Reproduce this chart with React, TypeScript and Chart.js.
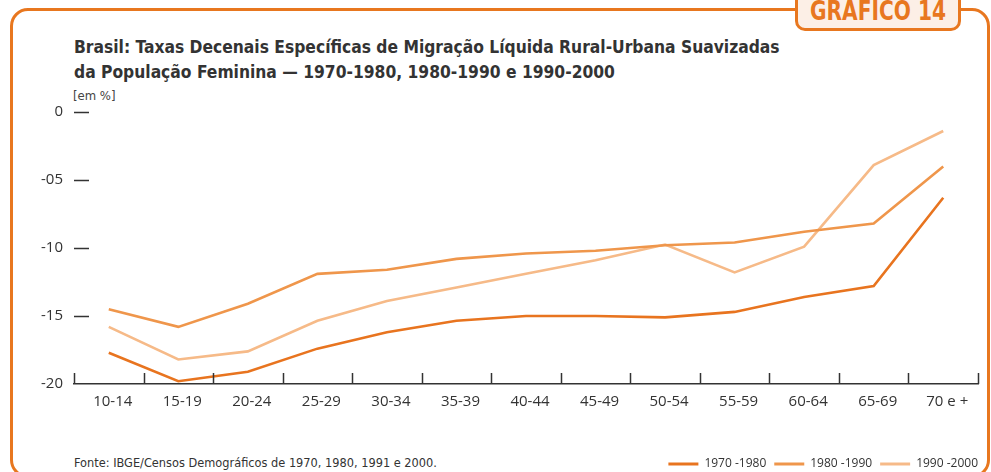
import React, { useEffect, useRef } from 'react';
import { Chart, registerables } from 'chart.js';

Chart.register(...registerables);

const ageGroups = ['10-14', '15-19', '20-24', '25-29', '30-34', '35-39', '40-44', '45-49', '50-54', '55-59', '60-64', '65-69', '70 e +'];
const series1970 = [-17.7, -19.8, -19.1, -17.4, -16.2, -15.35, -15.0, -15.0, -15.1, -14.7, -13.6, -12.8, -6.3];
const series1980 = [-14.5, -15.8, -14.1, -11.9, -11.6, -10.8, -10.4, -10.2, -9.8, -9.6, -8.8, -8.2, -4.0];
const series1990 = [-15.8, -18.2, -17.6, -15.35, -13.9, -12.9, -11.9, -10.9, -9.75, -11.8, -9.9, -3.9, -1.4];
const seriesLabels = ['1970 -1980', '1980 -1990', '1990 -2000'];
const seriesColors = ['#E8741F', '#EF964B', '#F6BA88'];
const yTickValues = [0, -5, -10, -15, -20];
const yTickLabels = ['0', '-05', '-10', '-15', '-20'];

const titleLine1 = 'Brasil: Taxas Decenais Específicas de Migração Líquida Rural-Urbana Suavizadas';
const titleLine2 = 'da População Feminina — 1970-1980, 1980-1990 e 1990-2000';
const unitText = '[em %]';
const sourceText = 'Fonte: IBGE/Censos Demográficos de 1970, 1980, 1991 e 2000.';
const tabText = 'GRAFICO 14';

const ORANGE = '#E8771F';
const TEXT = '#333333';
const NARROW = '"Liberation Sans Narrow", "DejaVu Sans Condensed", "Roboto Condensed", Arial, sans-serif';
const TICKFONT = '"Open Sans", "Liberation Sans", Arial, sans-serif';

const axisMarks = {
  id: 'axisMarks',
  afterDatasetsDraw(chart: any) {
    const { ctx, chartArea, scales } = chart;
    const xs = scales.x;
    const ys = scales.y;
    ctx.save();
    ctx.strokeStyle = TEXT;
    ctx.lineWidth = 1.5;
    ctx.beginPath();
    yTickValues.forEach((v) => {
      if (v === ys.min) return;
      const py = Math.round(ys.getPixelForValue(v)) + 0.5;
      ctx.moveTo(chartArea.left, py);
      ctx.lineTo(chartArea.left + 15, py);
    });
    const step = xs.getPixelForValue(1) - xs.getPixelForValue(0);
    const start = xs.getPixelForValue(0) - step / 2;
    for (let i = 0; i <= ageGroups.length; i++) {
      const px = Math.round(start + i * step) + 0.5;
      ctx.moveTo(px, chartArea.bottom);
      ctx.lineTo(px, chartArea.bottom - 11);
    }
    ctx.stroke();
    ctx.restore();
  },
};

const legendShift = {
  id: 'legendShift',
  afterLayout(chart: any) {
    if (chart.legend) {
      chart.legend.left += 8;
      chart.legend.right += 8;
    }
  },
};

export default function App() {
  const canvasRef = useRef<HTMLCanvasElement | null>(null);

  useEffect(() => {
    const canvas = canvasRef.current;
    if (!canvas) return;
    const datasets = [series1970, series1980, series1990].map((data, i) => ({
      label: seriesLabels[i],
      data,
      borderColor: seriesColors[i],
      backgroundColor: seriesColors[i],
      borderWidth: 2.6,
      pointRadius: 0,
      tension: 0,
      fill: false,
    }));
    const chart = new Chart(canvas, {
      type: 'line',
      data: { labels: ageGroups, datasets },
      plugins: [axisMarks, legendShift],
      options: {
        animation: false,
        responsive: false,
        devicePixelRatio: 1,
        layout: { padding: { top: 112, left: 0, right: 13, bottom: 0 } },
        plugins: {
          title: { display: false },
          tooltip: { enabled: false },
          legend: {
            display: true,
            position: 'bottom',
            align: 'end',
            labels: {
              boxWidth: 30,
              boxHeight: 3,
              padding: 8,
              color: TEXT,
              font: { family: TICKFONT, size: 12 },
              generateLabels: () =>
                seriesLabels.map((t, i) => ({
                  text: t,
                  fillStyle: seriesColors[i],
                  strokeStyle: seriesColors[i],
                  lineWidth: 0,
                  hidden: false,
                  datasetIndex: i,
                  fontColor: TEXT,
                })),
            },
          },
        },
        scales: {
          x: {
            type: 'category',
            offset: true,
            grid: { display: false, drawTicks: false, offset: true },
            border: { display: true, color: TEXT, width: 1.5 },
            ticks: {
              color: TEXT,
              padding: 9,
              labelOffset: 4,
              maxRotation: 0,
              autoSkip: false,
              font: { family: TICKFONT, size: 15 },
            },
            afterFit: (scale: any) => {
              scale.height = 66;
            },
          },
          y: {
            min: -20,
            max: 0,
            grid: { display: false, drawTicks: false },
            border: { display: false },
            ticks: {
              stepSize: 5,
              color: TEXT,
              padding: 11,
              font: { family: TICKFONT, size: 15 },
              callback: (v: any) => {
                const idx = yTickValues.indexOf(Number(v));
                return idx >= 0 ? yTickLabels[idx] : '';
              },
            },
            afterFit: (scale: any) => {
              scale.width = 74;
            },
          },
        },
      },
    });
    return () => chart.destroy();
  }, []);

  return (
    <div
      style={{
        position: 'fixed',
        left: 0,
        top: 0,
        width: 991,
        height: 472,
        overflow: 'hidden',
        background: '#ffffff',
      }}
    >
      <div
        style={{
          position: 'absolute',
          left: 10,
          top: 8,
          width: 980,
          height: 470,
          border: `3px solid ${ORANGE}`,
          borderRadius: 18,
          boxSizing: 'border-box',
        }}
      />
      <div
        style={{
          position: 'absolute',
          left: 795,
          top: -12,
          width: 166,
          height: 43,
          border: `3px solid ${ORANGE}`,
          borderRadius: '0 0 10px 10px',
          background: '#FCEFE6',
          boxSizing: 'border-box',
          overflow: 'hidden',
        }}
      >
        <div
          style={{
            position: 'absolute',
            left: -3,
            top: 6,
            width: 166,
            textAlign: 'center',
            fontFamily: NARROW,
            fontWeight: 'bold',
            fontSize: 27,
            lineHeight: '27px',
            color: ORANGE,
            whiteSpace: 'nowrap',
            transform: 'scaleX(0.83)',
            transformOrigin: 'center',
          }}
        >
          {tabText}
        </div>
      </div>
      <div
        style={{
          position: 'absolute',
          left: 74,
          top: 35,
          fontFamily: NARROW,
          fontWeight: 'bold',
          fontSize: 17.3,
          lineHeight: '25px',
          color: TEXT,
          whiteSpace: 'nowrap',
        }}
      >
        <div>{titleLine1}</div>
        <div>{titleLine2}</div>
      </div>
      <div
        style={{
          position: 'absolute',
          left: 73,
          top: 89,
          fontFamily: NARROW,
          fontSize: 13,
          lineHeight: '14px',
          color: '#444',
          whiteSpace: 'nowrap',
        }}
      >
        {unitText}
      </div>
      <div
        style={{
          position: 'absolute',
          left: 74,
          top: 455,
          fontFamily: NARROW,
          fontSize: 12.65,
          lineHeight: '16px',
          color: TEXT,
          whiteSpace: 'nowrap',
        }}
      >
        {sourceText}
      </div>
      <canvas
        ref={canvasRef}
        width={991}
        height={480}
        style={{ position: 'absolute', left: 0, top: 0, width: 991, height: 480 }}
      />
    </div>
  );
}
